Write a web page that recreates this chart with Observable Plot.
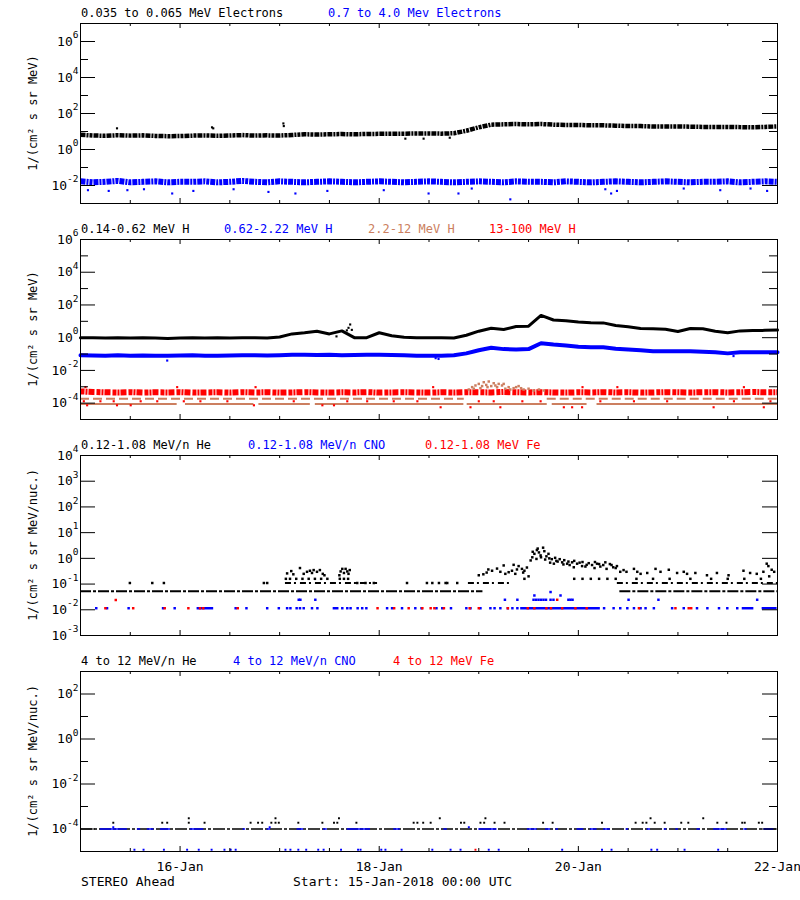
<!DOCTYPE html>
<html>
<head>
<meta charset="utf-8">
<script src="https://cdn.jsdelivr.net/npm/d3@7"></script>
<script src="https://cdn.jsdelivr.net/npm/@observablehq/plot@0.6"></script>
<style>
html,body{margin:0;padding:0;background:#fff;}
#root{position:relative;width:800px;height:900px;overflow:hidden;font-family:"DejaVu Sans Mono",monospace;color:#000;}
.ttl{position:absolute;white-space:pre;font-size:12px;line-height:12px;}
.foot{position:absolute;white-space:pre;font-size:13px;line-height:13px;}
.ylab{position:absolute;white-space:pre;font-size:12px;line-height:12px;transform:translate(-50%,-50%) rotate(-90deg);}
</style>
</head>
<body>
<div id="root"></div>
<script>
// ================= DATA =================
// time in hours since 15-Jan-2018 00:00 UTC; 3-hourly samples
const hours3 = d3.range(0, 169, 3);
const xMinorTicks = [12, 36, 48, 60, 84, 96, 108, 132, 144, 156];
const xMajorTicks = [24, 72, 120];
const xLabelHours = [24, 72, 120, 168];
const xLabelText = ["16-Jan", "18-Jan", "20-Jan", "22-Jan"];
const footLeft = "STEREO Ahead";
const footStart = "Start: 15-Jan-2018 00:00 UTC";

// ---- Panel 1: electrons ----
const p1Titles = ["0.035 to 0.065 MeV Electrons", "0.7 to 4.0 Mev Electrons"];
const p1YLabel = "1/(cm\u00b2 s sr MeV)";
const eLow = [6.5,6.0,5.8,6.2,5.9,6.1,5.7,5.5,5.6,5.9,6.0,5.8,6.0,6.3,5.9,6.1,6.0,6.4,
  7.0,6.8,7.0,7.2,7.0,7.3,7.4,7.5,7.6,7.7,7.8,7.6,8.0,
  11,17,24,25,26,25,26,24,23,23,22,22,21,20,20,19,19,19,18.5,18,18,18,17.5,17,18,19];
const eHigh = [0.017,0.015,0.016,0.018,0.015,0.016,0.017,0.015,0.016,0.016,
  0.017,0.015,0.016,0.018,0.016,0.015,0.017,0.016,0.015,0.016,
  0.017,0.016,0.015,0.016,0.017,0.016,0.015,0.016,0.017,0.016,
  0.015,0.016,0.017,0.016,0.015,0.017,0.016,0.016,0.015,0.017,
  0.016,0.015,0.016,0.017,0.016,0.015,0.016,0.017,0.016,0.015,
  0.016,0.016,0.017,0.015,0.016,0.017,0.016];
const eLowOutH = [8.8, 31.7, 32.0, 48.9, 49.0, 78.3, 82.7, 89.0];
const eLowOutV = [15, 17, 15, 28, 20, 4.0, 4.0, 4.5];
const eHighOutH = [1.8,6.8,11.3,15.3,22.1,27.2,36.9,45.3,51.8,59.5,73.1,83.9,91.1,94.3,103.6,126.5,127.9,129.3,145.4,154.2,161.5,165.5];
const eHighOutV = [0.0055,0.005,0.0055,0.0062,0.0036,0.005,0.0062,0.0044,0.0036,0.005,0.0055,0.0036,0.0036,0.0068,0.0017,0.0062,0.0036,0.005,0.0068,0.0055,0.0068,0.005];

// ---- Panel 2: protons ----
const p2Titles = ["0.14-0.62 MeV H", "0.62-2.22 MeV H", "2.2-12 MeV H", "13-100 MeV H"];
const p2YLabel = "1/(cm\u00b2 s sr MeV)";
const hLow = [1.0,1.0,0.95,1.0,0.95,1.0,0.95,0.9,0.95,1.0,0.95,1.0,0.95,1.0,1.0,0.95,1.1,
  1.7,2.0,2.5,1.7,2.6,1.0,1.0,2.0,1.3,1.05,1.0,1.0,1.0,0.95,
  1.4,2.5,3.8,3.2,4.8,5.0,23,12,10.8,9,8.2,8.0,5.5,4.6,3.6,3.5,3.3,2.4,3.6,3.5,2.5,2.0,2.6,2.7,2.8,2.9];
const hLowOutH = [61.7, 64.2, 64.6, 65.0, 65.4];
const hLowOutV = [1.2, 2.8, 4.0, 6.4, 3.0];
const hMid = [0.085,0.082,0.08,0.085,0.08,0.082,0.078,0.08,0.082,0.085,0.08,0.08,0.082,0.085,0.085,0.082,0.085,0.09,0.09,0.088,0.09,0.085,0.088,0.09,0.09,0.088,0.085,0.08,0.078,0.08,0.085,
  0.11,0.17,0.24,0.2,0.19,0.2,0.46,0.38,0.33,0.28,0.26,0.26,0.21,0.19,0.17,0.15,0.15,0.15,0.15,0.14,0.13,0.11,0.13,0.13,0.13,0.13];
const hMidOutH = [20.9, 85.6, 86.3, 157.4];
const hMidOutV = [0.04, 0.056, 0.05, 0.075];
const hTop = [5.2e-4,4.8e-4,4.6e-4,4.5e-4,4.7e-4,4.4e-4,4.6e-4,4.5e-4,4.7e-4,4.4e-4,
  4.5e-4,4.6e-4,4.4e-4,4.7e-4,4.5e-4,4.6e-4,4.4e-4,4.5e-4,4.7e-4,4.5e-4,
  4.4e-4,4.6e-4,4.5e-4,4.7e-4,4.4e-4,4.5e-4,4.6e-4,4.5e-4,4.4e-4,4.6e-4,
  4.5e-4,4.7e-4,4.6e-4,4.5e-4,4.8e-4,4.6e-4,4.5e-4,4.7e-4,4.5e-4,4.4e-4,
  4.6e-4,4.5e-4,4.7e-4,4.5e-4,4.6e-4,4.4e-4,4.5e-4,4.7e-4,4.6e-4,4.5e-4,
  4.6e-4,4.7e-4,4.5e-4,4.6e-4,4.8e-4,4.6e-4,4.7e-4];
const hTopLowH = [1.6,8.8,12.1,41.8,58.3,61.1,0.8,4.8,8.0,14.5,18.5,24.9,28.9,35.4,51.4,64.3,69.1,75.5,86.8,94.0,101.2,116.5,118.5,120.9,152.6,164.7,81.2,96.0,99.6,106.5,110.9,125.3,133.4,141.4,157.5,166.3];
const hTopLowV = [7.4e-5,7.4e-5,7.4e-5,7.4e-5,7.4e-5,7.4e-5,1.3e-4,1.3e-4,1.3e-4,1.3e-4,1.3e-4,1.3e-4,1.3e-4,1.3e-4,1.3e-4,1.3e-4,1.3e-4,1.3e-4,5.6e-5,5.6e-5,5.6e-5,5.6e-5,5.6e-5,5.6e-5,5.6e-5,5.6e-5,1.3e-4,1.3e-4,1.3e-4,1.3e-4,1.3e-4,1.3e-4,1.3e-4,1.3e-4,1.3e-4,1.3e-4];
const hTopHighH = [1.2, 23.3, 42.2, 85.0, 100.4, 121.0, 129.4, 159.9];
const hTopHighV = [9.5e-4, 9.5e-4, 9.5e-4, 9.5e-4, 9.5e-4, 9.5e-4, 9.5e-4, 9.5e-4];
const hHighLowLevel = 9e-5;
const hHighLowSegs = [[0,23.3],[25.3,41.8],[43,55.4],[56.6,92.4],[93.2,112.5],[113.7,122.1],[124.5,168]];
const hHighUpLevel = 1.85e-4;
const hHighUpSegs = [[0,92.5],[112.5,168]];
const hHighBumpH = [93.6,94.4,94.8,95.2,96.0,96.4,96.8,97.2,97.8,98.1,98.4,99.0,99.6,100.0,100.4,100.8,101.6,102.0,102.4,103.2,103.6,104.4,105.0,105.6,106.2,106.8,108.0,109.2,110.5,111.7];
const hHighBumpV = [6.8e-4,9.5e-4,7.6e-4,1.2e-3,1.5e-3,8.2e-4,1.1e-3,1.9e-3,1.3e-3,9.5e-4,2.1e-3,1.1e-3,1.65e-3,1.2e-3,9.5e-4,1.5e-3,1.2e-3,1.5e-3,7.6e-4,9.5e-4,6.8e-4,8.2e-4,9.5e-4,1.1e-3,8.2e-4,6.8e-4,7.6e-4,5.9e-4,6.8e-4,5.9e-4];

// ---- Panel 3: low-energy heavy ions ----
const p3Titles = ["0.12-1.08 MeV/n He", "0.12-1.08 MeV/n CNO", "0.12-1.08 MeV Fe"];
const p3YLabel = "1/(cm\u00b2 s sr MeV/nuc.)";
const heBaseLevel = 0.053;
const heBaseSegs = [[0,97],[130,168]];
const heL2Level = 0.11;
const heL2Segs = [[49.4,71.6],[93.5,103.6],[129.4,168]];
const heDotsH = [11.9,17.3,20.1,44.2,45.0,66.7,68.7,70.7,78.7,83.5,84.8,86.4,88.0,88.4,90.8,
  49.5,50.5,52.0,53.5,55.0,56.5,58.0,59.5,62.5,63.5,64.5,107.0,108.0,119.0,121.0,123.0,125.0,127.0,129.0,134.0,138.0,142.0,147.0,152.0,156.0,160.0,164.0,166.0,
  49.8,50.8,51.3,52.9,53.8,54.6,55.3,55.8,56.2,57.0,57.7,58.4,58.8,
  62.4,62.7,63.1,63.5,63.9,64.3,64.6,64.9,
  96.0,97.1,97.9,98.3,99.2,100.4,101.2,102.0,102.4,103.2,104.0,104.4,104.8,105.2,105.6,106.4,106.7,107.0,107.6,
  108.5,108.9,109.0,109.4,109.9,110.0,110.2,110.5,110.9,111.0,111.5,111.8,112.0,112.3,112.8,113.0,113.2,113.6,114.1,114.4,114.7,115.0,115.5,116.1,116.4,116.6,117.3,117.6,117.9,118.5,118.9,119.0,119.7,120.3,120.9,121.0,121.7,122.0,122.5,123.3,123.9,124.0,124.5,125.0,125.3,126.0,126.5,126.8,127.6,128.0,128.4,129.0,129.3,
  130.1,130.9,131.6,133.4,134.2,135.0,136.6,138.6,139.8,141.8,143.8,145.4,146.2,148.2,151.0,153.4,156.2,159.8,161.4,163.0,164.6,165.4,165.8,166.6,167.2];
const heDotsV = [0.11,0.11,0.11,0.11,0.11,0.11,0.11,0.11,0.11,0.11,0.11,0.11,0.11,0.11,0.11,
  0.16,0.16,0.16,0.16,0.16,0.16,0.16,0.16,0.16,0.16,0.16,0.16,0.2,0.16,0.16,0.16,0.16,0.16,0.16,0.16,0.16,0.16,0.16,0.16,0.16,0.16,0.16,0.2,
  0.26,0.32,0.24,0.42,0.25,0.3,0.33,0.27,0.35,0.3,0.35,0.25,0.22,
  0.22,0.31,0.39,0.27,0.39,0.31,0.25,0.35,
  0.22,0.24,0.28,0.37,0.33,0.4,0.3,0.53,0.25,0.29,0.33,0.56,0.25,0.37,0.5,0.39,0.28,0.33,0.44,
  0.83,1.1,1.8,1.5,0.95,2.1,2.4,1.7,1.3,1.1,2.6,1.9,0.9,1.2,1.5,1.0,0.68,0.93,0.62,1.05,0.8,0.75,0.93,0.7,0.58,0.85,0.62,0.75,0.55,0.7,0.45,0.8,0.62,0.68,0.5,0.72,0.48,0.56,0.65,0.55,0.42,0.72,0.62,0.6,0.48,0.55,0.7,0.39,0.6,0.55,0.45,0.42,0.5,
  0.3,0.35,0.3,0.39,0.3,0.25,0.27,0.39,0.3,0.36,0.27,0.3,0.25,0.27,0.22,0.27,0.22,0.33,0.27,0.25,0.3,0.62,0.5,0.36,0.3];
const cnoLevel = 0.0115;
const cnoSegs = [[28.1,32.1],[60.9,62.3],[106.1,125.3],[159.5,162.3],[164.3,167.9]];
const cnoDotsH = [3.8,6.4,11.6,19.9,22.7,37.4,40.0,45.0,47.8,49.8,50.6,52.1,52.9,53.8,55.8,57.1,63.1,64.3,65.1,66.8,67.9,68.9,73.9,75.1,77.5,80.7,82.2,85.8,87.2,89.3,93.0,94.0,96.4,98.8,99.8,101.2,103.0,104.1,105.3,126.2,128.5,130.1,131.8,133.4,135.0,136.2,138.2,142.6,145.4,148.6,151.1,153.9,155.9,158.3,
  52.6,53.0,56.6,102.3,105.3,109.2,109.8,110.4,111.0,111.6,112.2,113.3,114.0,117.6,118.1,118.6,132.1,139.3,163.1,113.3,109.4,115.7];
const cnoDotsV = [0.0115,0.0115,0.0115,0.0115,0.0115,0.0115,0.0115,0.0115,0.0115,0.0115,0.0115,0.0115,0.0115,0.0115,0.0115,0.0115,0.0115,0.0115,0.0115,0.0115,0.0115,0.0115,0.0115,0.0115,0.0115,0.0115,0.0115,0.0115,0.0115,0.0115,0.0115,0.0115,0.0115,0.0115,0.0115,0.0115,0.0115,0.0115,0.0115,0.0115,0.0115,0.0115,0.0115,0.0115,0.0115,0.0115,0.0115,0.0115,0.0115,0.0115,0.0115,0.0115,0.0115,0.0115,
  0.0245,0.0245,0.0245,0.0245,0.0245,0.0245,0.0245,0.0245,0.0245,0.0245,0.0245,0.0245,0.0245,0.0245,0.0245,0.0245,0.0245,0.0245,0.0245,0.049,0.036,0.036];
const feDotsH = [6.0,12.7,20.3,26.0,28.8,29.6,37.9,71.6,75.6,79.1,82.4,84.4,85.3,87.6,93.8,96.0,103.0,107.8,109.4,112.3,113.4,116.1,119.3,122.0,134.6,143.4,146.6,147.2,8.5,114.9];
const feDotsV = [0.0115,0.0115,0.0115,0.0115,0.0115,0.0115,0.0115,0.0115,0.0115,0.0115,0.0115,0.0115,0.0115,0.0115,0.0115,0.0115,0.0115,0.0115,0.0115,0.0115,0.0115,0.0115,0.0115,0.0115,0.0115,0.0115,0.0115,0.0115,0.024,0.0245];

// ---- Panel 4: high-energy heavy ions ----
const p4Titles = ["4 to 12 MeV/n He", "4 to 12 MeV/n CNO", "4 to 12 MeV Fe"];
const p4YLabel = "1/(cm\u00b2 s sr MeV/nuc.)";
const he4Level = 1e-4;
const he4Segs = [[0,168]];
const he4DotsH = [7.9,19.7,20.9,26.1,29.9,41.0,42.8,43.8,46.0,47.0,47.8,52.5,58.3,61.1,61.9,66.5,80.3,81.2,82.6,84.4,91.7,92.5,96.4,97.3,99.8,102.2,111.5,113.8,125.7,133.8,135.5,136.4,138.4,140.8,144.8,146.5,153.5,155.7,159.5,160.1,163.5,164.3,
  26.1,47.0,62.3,86.6,97.6,137.4,150.1];
const he4DotsV = [1.9e-4,1.9e-4,1.9e-4,1.9e-4,1.9e-4,1.9e-4,1.9e-4,1.9e-4,1.9e-4,1.9e-4,1.9e-4,1.9e-4,1.9e-4,1.9e-4,1.9e-4,1.9e-4,1.9e-4,1.9e-4,1.9e-4,1.9e-4,1.9e-4,1.9e-4,1.9e-4,1.9e-4,1.9e-4,1.9e-4,1.9e-4,1.9e-4,1.9e-4,1.9e-4,1.9e-4,1.9e-4,1.9e-4,1.9e-4,1.9e-4,1.9e-4,1.9e-4,1.9e-4,1.9e-4,1.9e-4,1.9e-4,1.9e-4,
  3e-4,3e-4,3e-4,3e-4,3e-4,3e-4,3e-4];
const cno4Level = 1e-4;
const cno4Segs = [[4.8,11.3],[13.7,14.5],[16.1,17.7],[19.3,21.7],[26.5,29.7],[39.2,39.8],[45.0,45.8],[52.2,53.8],[58.6,59.5],[64.3,69.9],[75.5,77.1],[87.6,88.4],[96.0,100.4],[107.7,110.1],[112.1,113.3],[114.6,115.2],[119.7,121.3],[122.9,124.5],[126.1,127.7],[131.5,132.1],[136.6,137.4],[140.7,141.3],[143.5,144.1],[148.6,149.4],[152.6,155.9],[159.9,160.7],[164.7,167.1]];
const cno4DotsH = [13.0,15.2,20.1,25.7,28.5,31.6,34.7,36.2,37.4,49.4,50.6,52.5,54.4,57.3,58.6,62.8,66.9,67.5,72.5,73.5,77.4,84.8,89.2,91.6,98.4,100.8,116.1,125.7,128.0,137.6,139.0,145.6,153.7, 7.9,45.6,93.6];
const cno4DotsV = [1.2e-5,1.2e-5,1.2e-5,1.2e-5,1.2e-5,1.2e-5,1.2e-5,1.2e-5,1.2e-5,1.2e-5,1.2e-5,1.2e-5,1.2e-5,1.2e-5,1.2e-5,1.2e-5,1.2e-5,1.2e-5,1.2e-5,1.2e-5,1.2e-5,1.2e-5,1.2e-5,1.2e-5,1.2e-5,1.2e-5,1.2e-5,1.2e-5,1.2e-5,1.2e-5,1.2e-5,1.2e-5,1.2e-5, 1.2e-4,1.2e-4,1.2e-4];
const fe4DotsH = [95.2];
const fe4DotsV = [1.2e-5];

// ================= STYLE / LAYOUT =================
const BLACK = "#000000", BLUE = "#0000ff", RED = "#ff0000", TAN = "#cc7f60";
const W = 800, ML = 80, MR = 23, FH = 180, FW = W - ML - MR;
const root = document.getElementById("root");

const pts = (hs, vs) => hs.map((h, i) => ({h, v: vs[i]}));
const segs = (list, level) => list.map(([a, b]) => ({a, b, v: level}));

function addText(cls, txt, left, top, color) {
  const d = document.createElement("div");
  d.className = cls; d.textContent = txt;
  d.style.left = left + "px"; d.style.top = top + "px";
  if (color) d.style.color = color;
  root.appendChild(d);
}

function panel({top, domain, major, minor, marks, titles, titleX, colors, ylabel, xLabels}) {
  const mt = 8, mb = xLabels ? 40 : 8;
  const tickMarks = [
    Plot.tickY(major, {y: d => d, insetRight: FW - 15}),
    Plot.tickY(major, {y: d => d, insetLeft: FW - 15}),
    Plot.tickY(minor, {y: d => d, insetRight: FW - 8}),
    Plot.tickY(minor, {y: d => d, insetLeft: FW - 8}),
    Plot.tickX(xMinorTicks, {x: d => d, insetTop: FH - 3}),
    Plot.tickX(xMinorTicks, {x: d => d, insetBottom: FH - 3}),
    Plot.tickX(xMajorTicks, {x: d => d, insetTop: FH - 5}),
    Plot.tickX(xMajorTicks, {x: d => d, insetBottom: FH - 5})
  ];
  const svg = Plot.plot({
    width: W, height: FH + mt + mb,
    marginLeft: ML, marginRight: MR, marginTop: mt, marginBottom: mb,
    style: {fontFamily: '"DejaVu Sans Mono", monospace', fontSize: "13px", color: "#000", background: "transparent", overflow: "visible"},
    x: {domain: [0, 168], axis: xLabels ? undefined : null, label: null},
    y: {type: "log", domain, label: null},
    marks: [
      ...marks,
      Plot.frame({stroke: "#000", strokeWidth: 1}),
      ...tickMarks,
      Plot.axisY({ticks: major, tickSize: 0, tickPadding: 2, label: null,
        tickFormat: d => "10^" + Math.round(Math.log10(d))}),
      ...(xLabels ? [Plot.axisX({ticks: xLabelHours, tickSize: 0, tickPadding: 10, label: null,
        tickFormat: d => xLabelText[xLabelHours.indexOf(d)]})] : [])
    ]
  });
  svg.style.position = "absolute";
  svg.style.left = "0px";
  svg.style.top = (top - mt) + "px";
  d3.select(svg).selectAll('g[aria-label="y-axis tick label"] text').each(function () {
    const s = this.textContent, i = s.indexOf("^");
    if (i < 0) return;
    this.textContent = s.slice(0, i);
    d3.select(this).append("tspan").attr("dy", "-7.5").attr("font-size", "9.5px").text(s.slice(i + 1));
  });
  root.appendChild(svg);
  titles.forEach((t, i) => addText("ttl", t, titleX[i], top - 16, colors[i]));
  const d = document.createElement("div");
  d.className = "ylab"; d.textContent = ylabel;
  d.style.left = "33px"; d.style.top = (top + FH / 2) + "px";
  root.appendChild(d);
}

const speckle = "5,1,2,1,3,1";

// Panel 1
panel({
  top: 23, domain: [1e-3, 1e7],
  major: [1e-2, 1, 1e2, 1e4, 1e6], minor: [1e-1, 1e1, 1e3, 1e5],
  titles: p1Titles, titleX: [81, 328], colors: [BLACK, BLUE], ylabel: p1YLabel,
  marks: [
    Plot.line(pts(hours3, eHigh), {x: "h", y: "v", stroke: BLUE, strokeWidth: 6, strokeDasharray: speckle, strokeLinecap: "butt"}),
    Plot.dot(pts(eHighOutH, eHighOutV), {x: "h", y: "v", fill: BLUE, r: 1.2, symbol: "square"}),
    Plot.line(pts(hours3, eLow), {x: "h", y: "v", stroke: BLACK, strokeWidth: 4.5, strokeDasharray: speckle, strokeLinecap: "butt"}),
    Plot.dot(pts(eLowOutH, eLowOutV), {x: "h", y: "v", fill: BLACK, r: 1.2, symbol: "square"})
  ]
});

// Panel 2
panel({
  top: 239, domain: [1e-5, 1e6],
  major: [1e-4, 1e-2, 1, 1e2, 1e4, 1e6], minor: [1e-3, 1e-1, 1e1, 1e3, 1e5],
  titles: p2Titles, titleX: [81, 224, 368, 489], colors: [BLACK, BLUE, TAN, RED], ylabel: p2YLabel,
  marks: [
    Plot.ruleY(segs(hHighLowSegs, hHighLowLevel), {x1: "a", x2: "b", y: "v", stroke: TAN, strokeWidth: 2}),
    Plot.ruleY(segs(hHighUpSegs, hHighUpLevel), {x1: "a", x2: "b", y: "v", stroke: TAN, strokeWidth: 2, strokeDasharray: "9,4"}),
    Plot.dot(pts(hTopLowH, hTopLowV), {x: "h", y: "v", fill: RED, r: 1.2, symbol: "square"}),
    Plot.line(pts(hours3, hTop), {x: "h", y: "v", stroke: RED, strokeWidth: 6, strokeDasharray: "4,1,2,1,6,2", strokeLinecap: "butt"}),
    Plot.dot(pts(hTopHighH, hTopHighV), {x: "h", y: "v", fill: RED, r: 1.2, symbol: "square"}),
    Plot.dot(pts(hHighBumpH, hHighBumpV), {x: "h", y: "v", fill: TAN, r: 1.4, symbol: "square"}),
    Plot.line(pts(hours3, hMid), {x: "h", y: "v", stroke: BLUE, strokeWidth: 4}),
    Plot.dot(pts(hMidOutH, hMidOutV), {x: "h", y: "v", fill: BLUE, r: 1.2, symbol: "square"}),
    Plot.line(pts(hours3, hLow), {x: "h", y: "v", stroke: BLACK, strokeWidth: 3}),
    Plot.dot(pts(hLowOutH, hLowOutV), {x: "h", y: "v", fill: BLACK, r: 1.2, symbol: "square"})
  ]
});

// Panel 3
panel({
  top: 455, domain: [1e-3, 1e4],
  major: [1e-3, 1e-2, 1e-1, 1, 1e1, 1e2, 1e3, 1e4], minor: [],
  titles: p3Titles, titleX: [81, 248, 425], colors: [BLACK, BLUE, RED], ylabel: p3YLabel,
  marks: [
    Plot.ruleY(segs(heBaseSegs, heBaseLevel), {x1: "a", x2: "b", y: "v", stroke: BLACK, strokeWidth: 2, strokeDasharray: "11,2,3,2"}),
    Plot.ruleY(segs(heL2Segs, heL2Level), {x1: "a", x2: "b", y: "v", stroke: BLACK, strokeWidth: 2, strokeDasharray: "6,3,2,4"}),
    Plot.dot(pts(heDotsH, heDotsV), {x: "h", y: "v", fill: BLACK, r: 1.4, symbol: "square"}),
    Plot.ruleY(segs(cnoSegs, cnoLevel), {x1: "a", x2: "b", y: "v", stroke: BLUE, strokeWidth: 2.5}),
    Plot.dot(pts(cnoDotsH, cnoDotsV), {x: "h", y: "v", fill: BLUE, r: 1.4, symbol: "square"}),
    Plot.dot(pts(feDotsH, feDotsV), {x: "h", y: "v", fill: RED, r: 1.4, symbol: "square"})
  ]
});

// Panel 4
panel({
  top: 671, domain: [1e-5, 1e3],
  major: [1e-4, 1e-2, 1, 1e2], minor: [1e-3, 1e-1, 1e1],
  titles: p4Titles, titleX: [81, 233, 393], colors: [BLACK, BLUE, RED], ylabel: p4YLabel,
  xLabels: true,
  marks: [
    Plot.ruleY(segs(he4Segs, he4Level), {x1: "a", x2: "b", y: "v", stroke: BLACK, strokeWidth: 1.3, strokeDasharray: "12,2,3,2"}),
    Plot.ruleY(segs(cno4Segs, cno4Level), {x1: "a", x2: "b", y: "v", stroke: BLUE, strokeWidth: 1.5}),
    Plot.dot(pts(he4DotsH, he4DotsV), {x: "h", y: "v", fill: BLACK, r: 1.1, symbol: "square"}),
    Plot.dot(pts(cno4DotsH, cno4DotsV), {x: "h", y: "v", fill: BLUE, r: 1.1, symbol: "square"}),
    Plot.dot(pts(fe4DotsH, fe4DotsV), {x: "h", y: "v", fill: RED, r: 1.1, symbol: "square"})
  ]
});

addText("foot", footLeft, 81, 875);
addText("foot", footStart, 293, 875);
</script>
</body>
</html>
